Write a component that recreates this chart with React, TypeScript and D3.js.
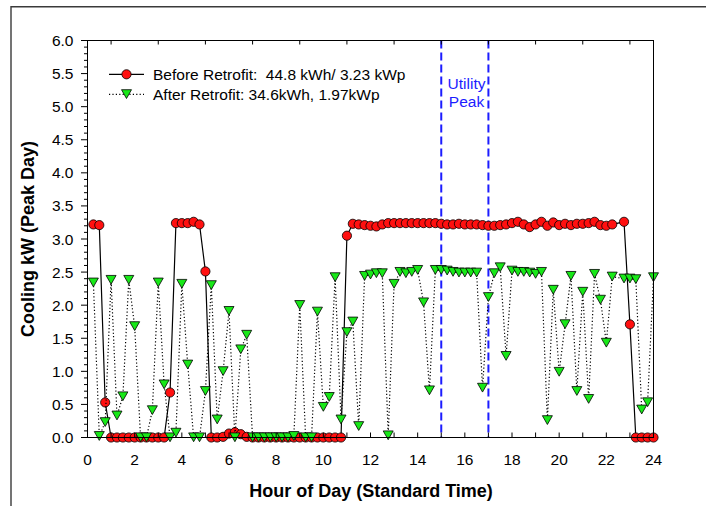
import React from "react";
import * as d3 from "d3";

// 15-minute interval logger readings on the peak day (hour ending)
const STEP_HOURS = 0.25;

// Cooling kW before the retrofit (null = missing reading)
const beforeKW: (number | null)[] = [
  3.22, 3.21, 0.53, 0, 0, 0, 0, 0, 0, 0, 0, 0, 0, 0.68, 3.24, 3.24,
  3.24, 3.26, 3.22, 2.51, 0, 0, 0.01, 0.06, 0.08, 0.05, 0.01, 0, 0, 0, 0, 0,
  0, 0, 0, 0, 0, 0, 0, 0, 0, 0, 0, 3.05, 3.23, 3.22, 3.21, 3.2,
  3.19, 3.22, 3.24, 3.24, 3.24, 3.24, 3.24, 3.24, 3.24, 3.24, 3.24, 3.23, 3.22, 3.22, 3.23, 3.22,
  3.22, 3.22, 3.21, 3.2, 3.2, 3.21, 3.22, 3.24, 3.26, 3.22, 3.18, 3.22, 3.26, 3.2, 3.25, 3.21,
  3.23, 3.21, 3.23, 3.23, 3.24, 3.26, 3.21, 3.2, 3.22, null, 3.26, 1.71, 0, 0, 0, 0,
];

// Cooling kW after the retrofit
const afterKW: (number | null)[] = [
  2.34, 0.02, 0.23, 2.38, 0.33, 0.62, 2.38, 1.68, 0, 0, 0.41, 2.34, 0.8, 0, 0.07, 2.32,
  1.1, 0, 0, 0.7, 2.3, 0.27, 1.0, 1.91, 0, 1.33, 1.55, 0, 0, 0, 0, 0,
  0, 0, 0.02, 2.0, 0, 0, 1.9, 0.46, 0.61, 2.42, 0.27, 1.59, 1.75, 0.17, 2.44, 2.46,
  2.48, 2.48, 0.03, 2.32, 2.5, 2.48, 2.5, 2.53, 2.04, 0.71, 2.53, 2.53, 2.52, 2.5, 2.49, 2.49,
  2.49, 2.49, 0.75, 2.12, 2.48, 2.57, 1.23, 2.52, 2.5, 2.5, 2.49, 2.47, 2.5, 0.26, 2.23, 0.99,
  1.71, 2.44, 0.7, 2.2, 0.58, 2.47, 2.08, 1.43, 2.43, null, 2.4, 2.4, 2.39, 0.42, 0.53, 2.42,
];

const xTickLabels = [0, 2, 4, 6, 8, 10, 12, 14, 16, 18, 20, 22, 24];
const yTickLabels = [0, 0.5, 1, 1.5, 2, 2.5, 3, 3.5, 4, 4.5, 5, 5.5, 6];
const utilityPeakHours = [15, 17];

const legendLabels = [
  "Before Retrofit:  44.8 kWh/ 3.23 kWp",
  "After Retrofit: 34.6kWh, 1.97kWp",
];

const W = 706;
const H = 506;
const left = 87.5;
const right = 653.5;
const top = 40.5;
const bottom = 437.5;
const FONT = "'Liberation Sans', Arial, Helvetica, sans-serif";

type Pt = { h: number; v: number };

function toPoints(vals: (number | null)[]): Pt[] {
  const pts: Pt[] = [];
  vals.forEach((v, i) => {
    if (v !== null) pts.push({ h: (i + 1) * STEP_HOURS, v });
  });
  return pts;
}

const triPath = (cx: number, cy: number) =>
  `M${cx - 5},${cy - 4.6}L${cx + 5},${cy - 4.6}L${cx},${cy + 4.2}Z`;

export default function App() {
  const x = d3.scaleLinear().domain([0, 24]).range([left, right]);
  const y = d3.scaleLinear().domain([0, 6]).range([bottom, top]);

  const before = toPoints(beforeKW);
  const after = toPoints(afterKW);

  const line = d3
    .line<Pt>()
    .x((d) => x(d.h))
    .y((d) => y(d.v));

  const hourTicks = d3.range(1, 24);
  const oddHourTicks = hourTicks.filter((h) => h % 2 === 1);
  const yMinor = d3.range(0, 61).map((i) => i / 10);

  const red = "#ff1010";
  const green = "#18e818";
  const blue = "#1c1cff";

  return (
    <svg
      width={W}
      height={H}
      style={{ position: "absolute", left: 0, top: 0, background: "#fff" }}
      fontFamily={FONT}
    >
      {/* outer frame */}
      <path d={`M11,${H}L11,6.8L${W},6.8`} fill="none" stroke="#3a3a3a" strokeWidth={1.4} />

      {/* utility peak window */}
      {utilityPeakHours.map((h) => (
        <line
          key={h}
          x1={x(h)}
          x2={x(h)}
          y1={top}
          y2={bottom}
          stroke={blue}
          strokeWidth={2}
          strokeDasharray="8,4"
        />
      ))}
      <text x={466.5} y={88.5} fontSize={15.5} fill={blue} textAnchor="middle">
        Utility
      </text>
      <text x={466.5} y={106.5} fontSize={15.5} fill={blue} textAnchor="middle">
        Peak
      </text>

      {/* before retrofit */}
      <path d={line(before) || ""} fill="none" stroke="#000" strokeWidth={1.2} />
      {before.map((d, i) => (
        <circle key={i} cx={x(d.h)} cy={y(d.v)} r={4.6} fill={red} stroke="#000" strokeWidth={0.8} />
      ))}

      {/* after retrofit */}
      <path
        d={line(after) || ""}
        fill="none"
        stroke="#000"
        strokeWidth={1.2}
        strokeDasharray="1.2,2.2"
      />
      {after.map((d, i) => (
        <path key={i} d={triPath(x(d.h), y(d.v))} fill={green} stroke="#000" strokeWidth={0.8} />
      ))}

      {/* plot frame */}
      <rect x={left} y={top} width={right - left} height={bottom - top} fill="none" stroke="#000" strokeWidth={1} />

      {/* x ticks: every hour on the bottom, odd hours on top */}
      {hourTicks.map((h) => (
        <line key={`b${h}`} x1={x(h)} x2={x(h)} y1={bottom} y2={bottom - 5} stroke="#000" strokeWidth={1} />
      ))}
      {oddHourTicks.map((h) => (
        <line key={`t${h}`} x1={x(h)} x2={x(h)} y1={top} y2={top + 4} stroke="#000" strokeWidth={1} />
      ))}
      {xTickLabels.map((h) => (
        <text key={h} x={x(h)} y={465} fontSize={15.5} textAnchor="middle" fill="#000">
          {h}
        </text>
      ))}

      {/* y ticks */}
      {yMinor.map((v, i) => (
        <line
          key={i}
          x1={left}
          x2={left - (i % 5 === 0 ? 6.5 : 3.5)}
          y1={y(v)}
          y2={y(v)}
          stroke="#000"
          strokeWidth={1}
        />
      ))}
      {yTickLabels.map((v) => (
        <text key={v} x={73.5} y={y(v)} dy="0.36em" fontSize={15.5} textAnchor="end" fill="#000">
          {v.toFixed(1)}
        </text>
      ))}

      {/* axis titles */}
      <text x={371} y={497} fontSize={18} fontWeight="bold" textAnchor="middle" fill="#000">
        Hour of Day (Standard Time)
      </text>
      <text
        transform={`translate(34,239) rotate(-90)`}
        fontSize={18}
        fontWeight="bold"
        textAnchor="middle"
        fill="#000"
      >
        Cooling kW (Peak Day)
      </text>

      {/* legend */}
      <line x1={109} x2={144} y1={74.3} y2={74.3} stroke="#000" strokeWidth={1.2} />
      <circle cx={126.5} cy={74.3} r={4.6} fill={red} stroke="#000" strokeWidth={0.8} />
      <text x={153} y={79.5} fontSize={15.5} fill="#000" style={{ whiteSpace: "pre" }}>
        {legendLabels[0]}
      </text>
      <line x1={109} x2={144} y1={94.3} y2={94.3} stroke="#000" strokeWidth={1.2} strokeDasharray="1.2,2.2" />
      <path d={triPath(126.5, 94.3)} fill={green} stroke="#000" strokeWidth={0.8} />
      <text x={153} y={99.5} fontSize={15.5} fill="#000" style={{ whiteSpace: "pre" }}>
        {legendLabels[1]}
      </text>
    </svg>
  );
}
